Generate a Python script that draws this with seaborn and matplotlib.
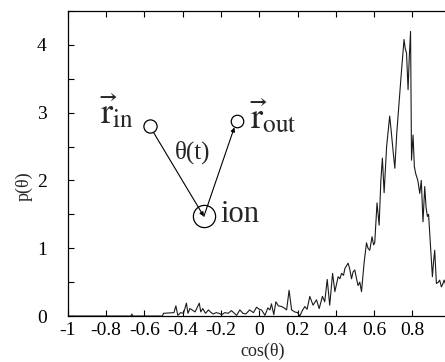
import numpy as np
import pandas as pd
import matplotlib
matplotlib.use("Agg")
import matplotlib.pyplot as plt
import seaborn as sns

# Distribution of the angle between incoming and outgoing directions
cos_theta = [
    -1.0, -0.67, -0.665, -0.66, -0.505, -0.50, -0.445, -0.435, -0.425, -0.41,
    -0.395, -0.38, -0.372, -0.362, -0.35, -0.335, -0.313, -0.305, -0.295, -0.28,
    -0.265, -0.255, -0.24, -0.225, -0.21, -0.195, -0.18, -0.162, -0.145, -0.118,
    -0.101, -0.085, -0.07, -0.05, -0.03, -0.014, 0.0, 0.012, 0.03, 0.045,
    0.056, 0.064, 0.076, 0.087, 0.1, 0.117, 0.13, 0.143, 0.156, 0.169,
    0.186, 0.2, 0.212, 0.225, 0.238, 0.25, 0.264, 0.281, 0.299, 0.313,
    0.33, 0.342, 0.355, 0.368, 0.383, 0.395, 0.412, 0.421, 0.43, 0.44,
    0.447, 0.464, 0.472, 0.482, 0.49, 0.499, 0.508, 0.516, 0.525, 0.534,
    0.548, 0.56, 0.568, 0.577, 0.589, 0.597, 0.603, 0.615, 0.626, 0.635,
    0.643, 0.652, 0.665, 0.681, 0.69, 0.70, 0.708, 0.718, 0.73, 0.743,
    0.756, 0.762, 0.769, 0.777, 0.783, 0.79, 0.795, 0.803, 0.81, 0.817,
    0.828, 0.838, 0.846, 0.855, 0.864, 0.871, 0.878, 0.884, 0.89, 0.897,
    0.904, 0.91, 0.916, 0.925, 0.935, 0.942, 0.951, 0.958, 0.965, 0.975,
    0.985, 1.0,
]
p_theta = [
    0.0, 0.0, 0.03, 0.0, 0.0, 0.04, 0.05, 0.15, 0.01, 0.05,
    0.04, 0.19, 0.04, 0.11, 0.09, 0.06, 0.19, 0.06, 0.11, 0.04,
    0.09, 0.06, 0.03, 0.05, 0.04, 0.02, 0.05, 0.04, 0.08, 0.01,
    0.09, 0.04, 0.03, 0.09, 0.05, 0.13, 0.10, 0.09, 0.01, 0.12,
    0.09, 0.18, 0.02, 0.21, 0.15, 0.14, 0.12, 0.09, 0.38, 0.09,
    0.06, 0.05, 0.0, 0.08, 0.14, 0.10, 0.29, 0.16, 0.24, 0.11,
    0.29, 0.21, 0.54, 0.16, 0.63, 0.36, 0.58, 0.55, 0.63, 0.60,
    0.70, 0.78, 0.70, 0.55, 0.65, 0.68, 0.55, 0.45, 0.50, 0.36,
    0.80, 1.08, 1.00, 0.97, 1.17, 1.05, 1.08, 1.67, 1.34, 2.00,
    2.33, 1.82, 2.50, 2.95, 2.70, 2.40, 2.18, 2.70, 3.15, 3.63,
    4.08, 3.95, 3.88, 3.34, 3.80, 4.20, 2.30, 2.67, 2.20, 2.10,
    2.00, 1.81, 2.00, 1.39, 1.91, 1.60, 1.47, 1.50, 1.22, 0.90,
    0.58, 0.80, 0.97, 0.48, 0.50, 0.53, 0.43, 0.47, 0.53, 0.45,
    0.50, 0.45,
]
x_ticks = [-1, -0.8, -0.6, -0.4, -0.2, 0, 0.2, 0.4, 0.6, 0.8, 1]
x_tick_labels = ["-1", "-0.8", "-0.6", "-0.4", "-0.2", "0", "0.2", "0.4", "0.6", "0.8", ""]
y_ticks = [0, 0.5, 1, 1.5, 2, 2.5, 3, 3.5, 4, 4.5]
y_tick_labels = ["0", "", "1", "", "2", "", "3", "", "4", ""]

df = pd.DataFrame({"cos": cos_theta, "p": p_theta})

sns.set_theme(style="ticks")
plt.rcParams["font.family"] = ["Liberation Serif", "DejaVu Serif"]
plt.rcParams["mathtext.fontset"] = "stix"
plt.rcParams["axes.unicode_minus"] = False

fig = plt.figure(figsize=(4.45, 3.62), dpi=100)
ax = fig.add_axes([0.152, 0.127, 0.861, 0.8425])

sns.lineplot(data=df, x="cos", y="p", ax=ax, color="#1a1a1a", linewidth=0.8,
             sort=False, estimator=None)

ax.set_xlim(-1, 1)
ax.set_ylim(0, 4.5)
ax.set_xticks(x_ticks)
ax.set_xticklabels(x_tick_labels)
ax.set_yticks(y_ticks)
ax.set_yticklabels(y_tick_labels)
ax.tick_params(direction="in", length=4, width=0.8, labelsize=14,
               top=True, right=True, colors="black")
ax.tick_params(axis="x", pad=4.5)
ax.tick_params(axis="y", pad=15)
for s in ax.spines.values():
    s.set_linewidth(0.9)
    s.set_color("black")

ax.set_xlabel("cos(θ)", fontsize=13)
ax.set_ylabel("p(θ)", fontsize=13)
ax.xaxis.set_label_coords(0.51, -0.088)
ax.yaxis.set_label_coords(-0.0906, 0.426)

# Schematic: incoming and outgoing positions around the ion
r_in = (-0.571, 2.80)
r_out = (-0.118, 2.88)
ion = (-0.289, 1.47)
ax.plot(*r_in, marker="o", ms=9.5, mfc="white", mec="black", mew=0.9, zorder=4)
ax.plot(*r_out, marker="o", ms=9, mfc="white", mec="black", mew=0.9, zorder=4)
ax.plot(*ion, marker="o", ms=16, mfc="none", mec="black", mew=0.9, zorder=4)
ax.annotate("", xy=ion, xytext=r_in,
            arrowprops=dict(arrowstyle="-|>", color="black", lw=0.8,
                            mutation_scale=6, shrinkA=5, shrinkB=0))
ax.annotate("", xy=r_out, xytext=ion,
            arrowprops=dict(arrowstyle="-|>", color="black", lw=0.8,
                            mutation_scale=6, shrinkA=0, shrinkB=5))
ax.text(-0.831, 2.85, r"$\vec{\mathrm{r}}_{\mathrm{in}}$", fontsize=26, va="baseline", ha="left")
ax.text(-0.049, 2.77, r"$\vec{\mathrm{r}}_{\mathrm{out}}$", fontsize=26, va="baseline", ha="left")
ax.text(-0.345, 2.41, "θ(t)", fontsize=18, va="center", ha="center")
ax.text(-0.202, 1.39, "ion", fontsize=22, va="baseline", ha="left")

fig.savefig("out.png", dpi=100)
